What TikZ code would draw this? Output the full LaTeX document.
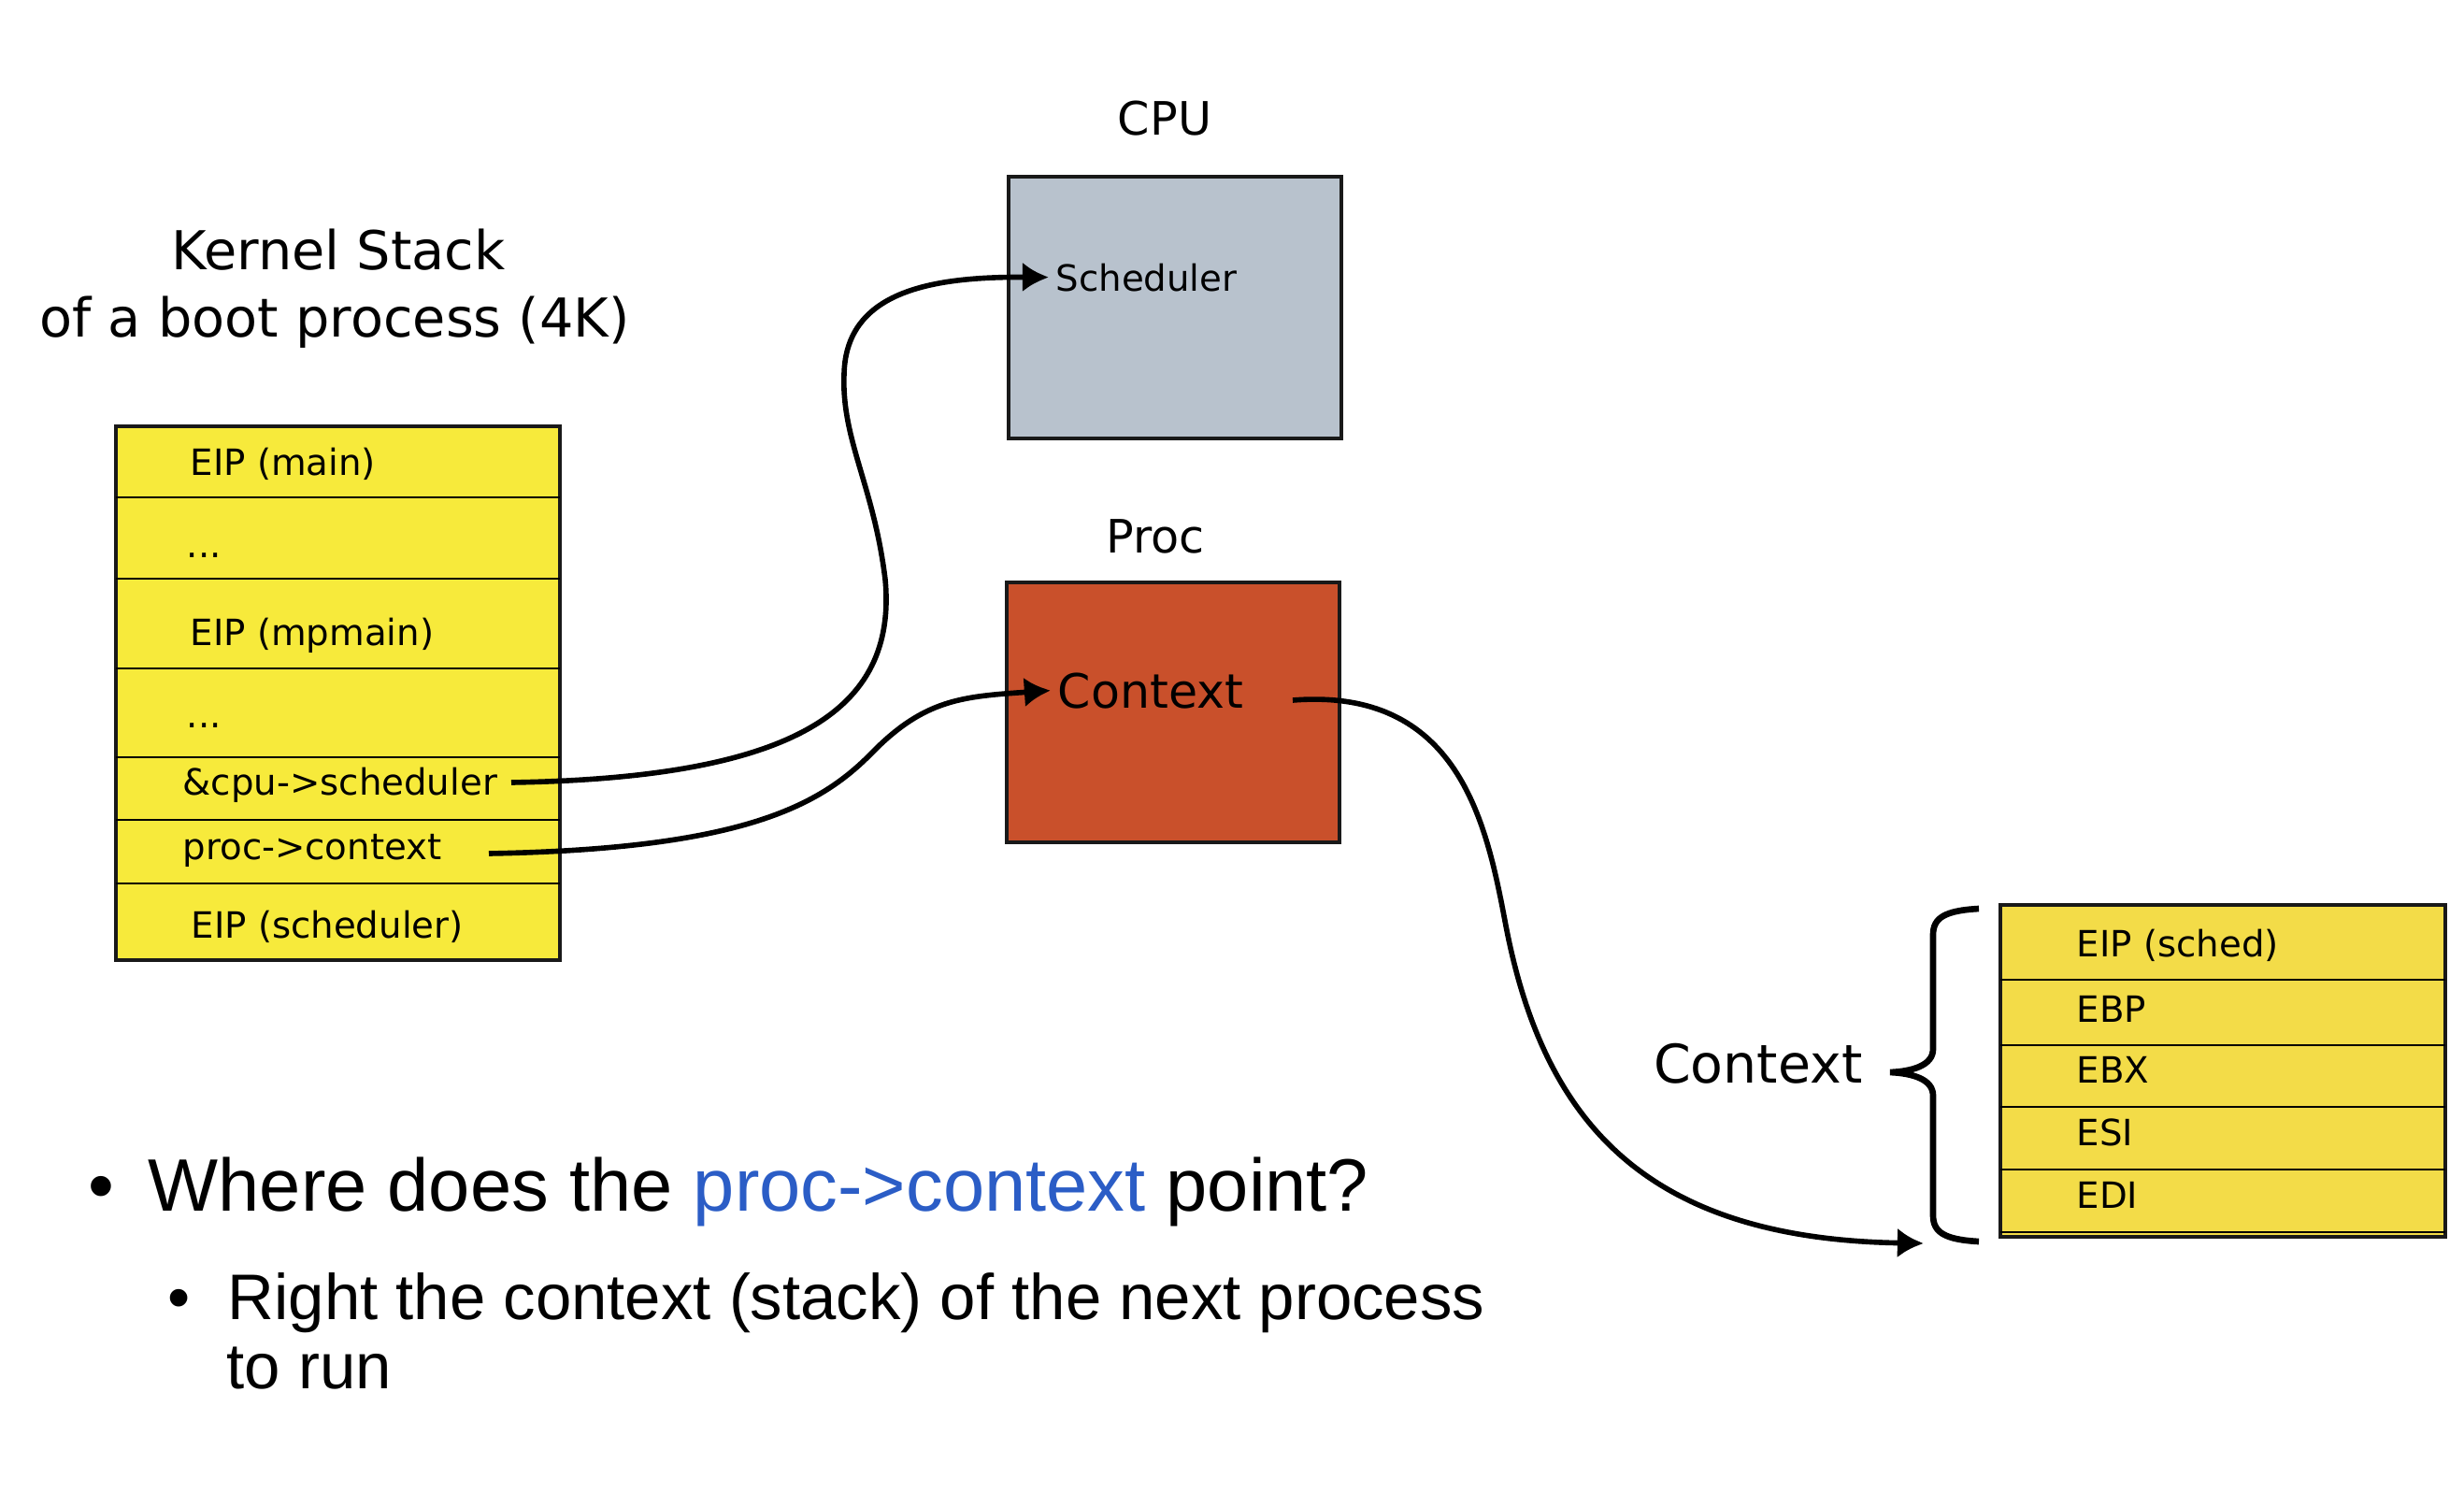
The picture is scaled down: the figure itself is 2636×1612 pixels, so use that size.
\documentclass[tikz,border=0pt]{standalone}
\usepackage{fontspec}
\setmainfont{DejaVu Sans}
\newfontfamily\slidefont{Liberation Sans}
\usetikzlibrary{arrows.meta}
\definecolor{cpugrey}{HTML}{B8C2CD}
\definecolor{procred}{HTML}{C9502B}
\definecolor{kstackyellow}{HTML}{F7EA3B}
\definecolor{ctxyellow}{HTML}{F3DC48}
\definecolor{ptrblue}{HTML}{2B5DC6}
\tikzset{>={Latex[length=8pt,width=9pt]}}
\tikzset{
  pointer/.style={->,line width=1.6pt},
  frame/.style={draw=black!90,line width=1pt},
  slot/.style={draw=black,line width=0.45pt},
  cell/.style={anchor=base west,inner sep=0pt,font=\fontsize{11}{13}\selectfont},
  heading/.style={anchor=base,inner sep=0pt,font=\fontsize{16.3}{19}\selectfont},
  boxtitle/.style={anchor=base,inner sep=0pt,font=\fontsize{14}{16}\selectfont},
  bulletline/.style={anchor=base west,inner sep=0pt,font=\slidefont\fontsize{#1}{#1}\selectfont},
}

\begin{document}
\begin{tikzpicture}[x=0.01cm,y=-0.01cm]
  \fill[white] (0,0) rectangle (2636,1612);
  \useasboundingbox (0,0) rectangle (2636,1612);

  % Kernel stack
  \node[heading] (kstitle) at (362,288) {Kernel Stack};
  \node[heading] (kssub) at (358,360) {of a boot process (4K)};
  \draw[frame,fill=kstackyellow] (124,456) rectangle (599,1027);
  \foreach \y in {532,619,715,810,877}
    \draw[slot] (124,\y) -- (599,\y);
  \draw[slot,line width=0.8pt] (124,945) -- (599,945);
  \node[cell] (eipmain) at (203,508) {EIP (main)};
  \node[cell] (dotsa) at (199,596) {...};
  \node[cell] (eipmp) at (203,690) {EIP (mpmain)};
  \node[cell] (dotsb) at (199,778) {...};
  \node[cell] (cpuptr) at (195,850) {\&cpu->scheduler};
  \node[cell] (ctxptr) at (195,919) {proc->context};
  \node[cell] (eipsch) at (204,1003) {EIP (scheduler)};

  % CPU and Proc
  \node[boxtitle] (cputitle) at (1246,144) {CPU};
  \draw[frame,fill=cpugrey] (1079,189) rectangle (1435,469);
  \node[cell,inner xsep=2pt] (sched) at (1122,311) {Scheduler};
  \node[boxtitle] (proctitle) at (1236,591) {Proc};
  \draw[frame,fill=procred] (1077,623) rectangle (1433,901);
  \node[cell,inner xsep=2pt,font=\fontsize{14.4}{17}\selectfont] (ctx) at (1124,757) {Context};

  % Saved context
  \draw[frame,fill=ctxyellow] (2140,968) rectangle (2616,1323);
  \foreach \y in {1048,1118,1184,1251,1318}
    \draw[slot] (2140,\y) -- (2616,\y);
  \foreach \name/\y/\txt in {eipsd/1023/EIP (sched),ebp/1093/EBP,ebx/1158/EBX,esi/1225/ESI,edi/1292/EDI}
    \node[cell] (\name) at (2221,\y) {\txt};
  \node[heading,font=\fontsize{16.2}{19}\selectfont,anchor=base east] (ctxlabel) at (1993,1158) {Context};
  \draw[line width=1.9pt] (2117,972) .. controls (2080,974) and (2068,982) .. (2068,1000) -- (2068,1122)
    .. controls (2068,1140) and (2045,1146) .. (2022,1147) .. controls (2045,1148) and (2068,1154) .. (2068,1172)
    -- (2068,1300) .. controls (2068,1318) and (2080,1326) .. (2117,1328);

  % Pointers
  \coordinate (cpuout) at (547,837);
  \coordinate (procout) at (523,913);
  \coordinate (ctxout) at (1383,749);
  \coordinate (ctxin) at (2058,1330);
  \draw[pointer] (cpuout) .. controls (850,832) and (960,760) .. (947,620)
    .. controls (935,520) and (900,470) .. (903,400) .. controls (905,310) and (1000,296) .. (sched.west);
  \draw[pointer] (procout) .. controls (800,908) and (880,860) .. (935,803)
    .. controls (990,748) and (1030,745) .. (ctx.west);
  \draw[pointer] (ctxout) .. controls (1560,735) and (1590,880) .. (1610,985)
    .. controls (1650,1200) and (1760,1325) .. (ctxin);

  % Bullets
  \node[bulletline=22.6] (bulla) at (94,1295) {•};
  \node[bulletline=22.6] (question) at (158,1295) {Where does the \textcolor{ptrblue}{proc->context} point?};
  \node[bulletline=19.6] (bullb) at (179,1411) {•};
  \node[bulletline=19.6] (answera) at (243,1411) {Right the context (stack) of the next process};
  \node[bulletline=19.6] (answerb) at (242,1485) {to run};
\end{tikzpicture}
\end{document}
